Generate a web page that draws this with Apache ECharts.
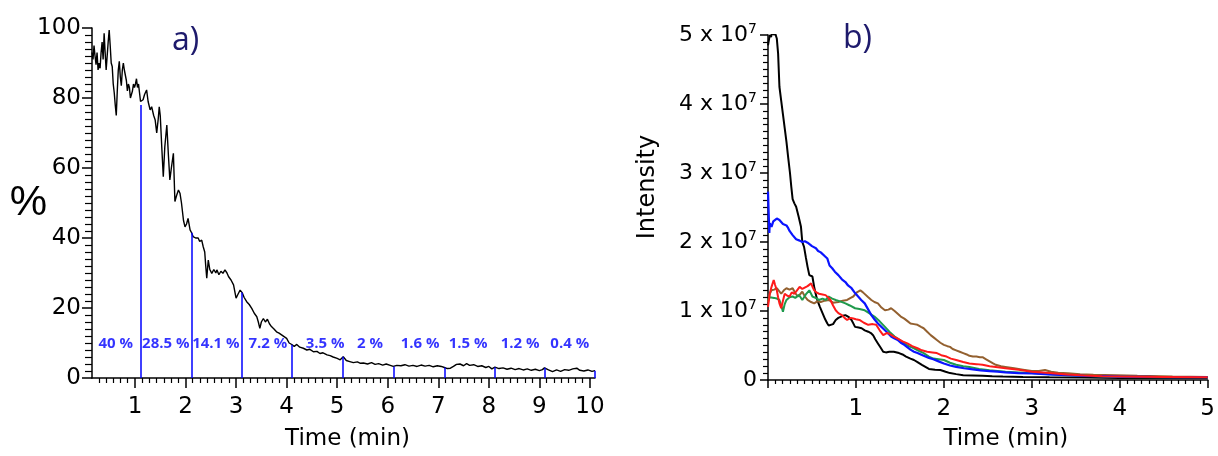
<!DOCTYPE html>
<html><head><meta charset="utf-8">
<script src="https://cdn.jsdelivr.net/npm/echarts@6/dist/echarts.min.js"></script>
<style>html,body{margin:0;padding:0;background:#fff}#c{width:1218px;height:456px}</style>
</head><body><div id="c"></div>
<script>
// ---------- Panel a) ----------
const leftTrace = [[0.15,93],[0.17,91],[0.19,95],[0.21,92],[0.23,89.5],[0.25,93],[0.27,88],[0.29,90],[0.31,88.5],[0.33,93],[0.35,96],[0.37,91],[0.39,98.5],[0.41,93],[0.43,88],[0.45,92],[0.47,96],[0.49,99.4],[0.51,95],[0.53,90],[0.55,89],[0.57,84],[0.59,81.5],[0.61,78],[0.63,75],[0.65,82],[0.67,88],[0.69,90.5],[0.71,86],[0.73,83.5],[0.75,88],[0.77,90],[0.79,88],[0.81,88.5],[0.83,85],[0.85,82],[0.87,84],[0.89,83],[0.91,80],[0.93,79.5],[0.95,82],[0.97,84],[0.99,83],[1.01,84],[1.03,85.5],[1.05,83],[1.07,84],[1.09,81.5],[1.11,79],[1.13,78.5],[1.16,79.5],[1.19,81],[1.23,82.3],[1.26,79],[1.30,76.6],[1.33,77.5],[1.37,75],[1.40,73.7],[1.43,70],[1.46,74],[1.48,77.5],[1.50,75],[1.53,66],[1.56,57.5],[1.59,66],[1.63,72.3],[1.66,64],[1.69,56.6],[1.72,60],[1.76,64.2],[1.79,50.4],[1.82,52],[1.86,53.7],[1.89,52.8],[1.92,50],[1.96,45],[1.99,43.2],[2.02,44],[2.05,45.6],[2.09,42.3],[2.12,41.5],[2.15,40.4],[2.20,40],[2.25,40],[2.28,39],[2.32,39.4],[2.35,37.5],[2.38,36],[2.40,32],[2.42,28.5],[2.45,33.7],[2.48,31],[2.52,29.9],[2.56,31],[2.60,30],[2.62,30.9],[2.66,29.5],[2.70,30.5],[2.74,29.9],[2.78,30.9],[2.82,30],[2.85,29],[2.90,28],[2.95,26.6],[3.00,22.8],[3.04,24],[3.08,25.1],[3.12,24.4],[3.16,23],[3.21,21.8],[3.26,21],[3.31,19.9],[3.36,18.5],[3.41,17.5],[3.44,16],[3.47,14.2],[3.50,16],[3.54,17],[3.58,16],[3.62,16.8],[3.66,15.5],[3.70,14.7],[3.75,14],[3.80,13.2],[3.85,12.8],[3.90,12.3],[3.95,11.8],[4.00,11.3],[4.05,10],[4.11,9.5],[4.15,9],[4.20,9.6],[4.26,8.8],[4.33,8.5],[4.40,8],[4.46,8.2],[4.53,7.5],[4.60,7.6],[4.66,7],[4.72,7.2],[4.80,6.6],[4.86,6.4],[4.92,6],[5.00,5.6],[5.06,5.2],[5.12,6.1],[5.18,5],[5.25,4.7],[5.32,4.4],[5.40,4.6],[5.46,4.2],[5.52,4.3],[5.60,4],[5.68,4.4],[5.75,3.9],[5.82,4.1],[5.90,3.7],[5.97,4],[6.05,3.6],[6.11,3.3],[6.18,3.6],[6.26,3.5],[6.34,3.8],[6.42,3.4],[6.50,3.6],[6.58,3.3],[6.66,3.7],[6.74,3.4],[6.82,3.6],[6.90,3.2],[6.98,3.5],[7.06,3.3],[7.12,3.0],[7.18,2.7],[7.24,2.8],[7.30,3.3],[7.36,3.9],[7.43,4.0],[7.50,3.5],[7.56,4.1],[7.62,3.6],[7.70,3.8],[7.78,3.3],[7.86,3.5],[7.94,3.0],[8.00,3.3],[8.06,2.6],[8.12,3.1],[8.20,2.7],[8.28,2.9],[8.36,2.5],[8.44,2.8],[8.52,2.4],[8.60,2.7],[8.68,2.3],[8.76,2.6],[8.84,2.2],[8.92,2.5],[9.00,2.1],[9.06,2.4],[9.10,2.9],[9.18,2.3],[9.26,1.8],[9.34,2.3],[9.42,1.9],[9.50,2.4],[9.58,2.2],[9.66,2.6],[9.74,2.8],[9.80,2.2],[9.88,2.0],[9.96,2.3],[10.04,1.9],[10.10,2.1]];
const sliceTimes = [1.12,2.12,3.12,4.11,5.12,6.11,7.12,8.11,9.10,10.10];
const sliceTops  = [78,41.5,24.4,9.5,6.1,3.3,3.0,3.1,2.9,2.1];
const fractionTimes  = [0.62,1.61,2.60,3.63,4.76,5.65,6.64,7.59,8.62,9.60];
const fractionLabels = ['40 %','28.5 %','14.1 %','7.2 %','3.5 %','2 %','1.6 %','1.5 %','1.2 %','0.4 %'];
const fractionLevel = 9.7;
const leftXTickLabels = [1,2,3,4,5,6,7,8,9,10];

// ---------- Panel b) (intensity in units of 10^7) ----------
const blackTrace = [[0,4.85],[0.02,5.0],[0.035,4.97],[0.05,5.07],[0.065,5.0],[0.08,5.03],[0.1,4.95],[0.115,4.73],[0.13,4.25],[0.15,4.05],[0.17,3.85],[0.19,3.65],[0.21,3.45],[0.23,3.22],[0.25,3.0],[0.265,2.8],[0.28,2.62],[0.3,2.56],[0.32,2.51],[0.35,2.36],[0.375,2.22],[0.39,2.0],[0.41,1.93],[0.43,1.78],[0.45,1.64],[0.47,1.52],[0.49,1.50],[0.505,1.50],[0.525,1.35],[0.54,1.26],[0.56,1.16],[0.59,1.06],[0.62,0.97],[0.65,0.88],[0.675,0.82],[0.69,0.79],[0.71,0.77],[0.74,0.81],[0.77,0.87],[0.8,0.90],[0.82,0.92],[0.85,0.93],[0.88,0.94],[0.92,0.91],[0.95,0.87],[0.97,0.82],[0.99,0.77],[1.03,0.76],[1.065,0.75],[1.1,0.72],[1.14,0.70],[1.17,0.68],[1.195,0.65],[1.22,0.59],[1.25,0.53],[1.28,0.47],[1.31,0.41],[1.34,0.40],[1.38,0.41],[1.43,0.41],[1.49,0.39],[1.53,0.37],[1.57,0.34],[1.62,0.31],[1.66,0.29],[1.7,0.26],[1.75,0.22],[1.79,0.19],[1.83,0.16],[1.9,0.15],[1.96,0.145],[2.02,0.12],[2.07,0.10],[2.14,0.085],[2.22,0.07],[2.33,0.065],[2.44,0.06],[2.55,0.055],[2.67,0.05],[2.9,0.045],[3.2,0.04],[3.6,0.035],[4.0,0.03],[4.5,0.03],[5.0,0.03]];
const blueTrace = [[0,2.73],[0.008,2.4],[0.015,2.13],[0.02,2.27],[0.04,2.22],[0.06,2.3],[0.08,2.29],[0.1,2.34],[0.115,2.36],[0.13,2.32],[0.15,2.29],[0.17,2.26],[0.19,2.27],[0.21,2.24],[0.23,2.2],[0.245,2.16],[0.26,2.15],[0.28,2.1],[0.3,2.08],[0.32,2.04],[0.34,2.05],[0.36,2.02],[0.39,2.0],[0.42,2.01],[0.45,1.99],[0.47,1.97],[0.5,1.94],[0.52,1.93],[0.545,1.91],[0.57,1.87],[0.6,1.85],[0.62,1.83],[0.65,1.79],[0.675,1.76],[0.7,1.66],[0.73,1.62],[0.76,1.57],[0.8,1.52],[0.84,1.46],[0.88,1.42],[0.91,1.37],[0.95,1.33],[0.99,1.26],[1.025,1.21],[1.06,1.16],[1.1,1.11],[1.14,1.02],[1.175,0.94],[1.21,0.88],[1.25,0.82],[1.29,0.77],[1.33,0.72],[1.37,0.67],[1.4,0.63],[1.44,0.60],[1.475,0.58],[1.51,0.54],[1.55,0.51],[1.59,0.47],[1.62,0.44],[1.66,0.41],[1.7,0.39],[1.77,0.35],[1.83,0.32],[1.88,0.30],[1.94,0.27],[2.0,0.24],[2.07,0.21],[2.14,0.19],[2.23,0.17],[2.33,0.155],[2.42,0.14],[2.52,0.13],[2.61,0.12],[2.7,0.11],[2.85,0.10],[3.0,0.095],[3.2,0.08],[3.4,0.07],[3.6,0.06],[3.8,0.055],[4.0,0.05],[4.3,0.045],[4.6,0.04],[5.0,0.04]];
const greenTrace = [[0,1.16],[0.02,1.2],[0.04,1.21],[0.07,1.19],[0.1,1.18],[0.13,1.16],[0.15,1.08],[0.17,0.99],[0.19,1.1],[0.21,1.16],[0.245,1.2],[0.28,1.21],[0.31,1.19],[0.35,1.23],[0.37,1.2],[0.39,1.16],[0.43,1.24],[0.47,1.30],[0.49,1.25],[0.505,1.21],[0.54,1.19],[0.58,1.16],[0.62,1.18],[0.655,1.16],[0.69,1.21],[0.73,1.18],[0.77,1.16],[0.82,1.14],[0.88,1.11],[0.93,1.08],[0.99,1.04],[1.04,1.03],[1.1,1.01],[1.15,0.97],[1.21,0.92],[1.27,0.85],[1.33,0.77],[1.38,0.70],[1.44,0.63],[1.5,0.58],[1.55,0.53],[1.6,0.49],[1.66,0.46],[1.72,0.42],[1.77,0.39],[1.83,0.34],[1.88,0.31],[1.94,0.30],[2.0,0.29],[2.07,0.25],[2.14,0.22],[2.22,0.2],[2.29,0.19],[2.4,0.16],[2.52,0.14],[2.61,0.13],[2.7,0.12],[2.85,0.11],[3.0,0.10],[3.2,0.085],[3.4,0.07],[3.6,0.06],[3.8,0.05],[4.0,0.045],[4.5,0.04],[5.0,0.04]];
const redTrace = [[0,1.06],[0.02,1.25],[0.04,1.35],[0.065,1.45],[0.08,1.38],[0.1,1.30],[0.115,1.2],[0.13,1.11],[0.15,1.04],[0.17,1.15],[0.19,1.25],[0.22,1.22],[0.245,1.21],[0.27,1.27],[0.3,1.25],[0.33,1.3],[0.36,1.35],[0.39,1.32],[0.41,1.30],[0.45,1.36],[0.49,1.40],[0.51,1.34],[0.525,1.30],[0.55,1.27],[0.58,1.25],[0.62,1.24],[0.655,1.23],[0.69,1.19],[0.71,1.16],[0.74,1.08],[0.77,1.01],[0.8,0.97],[0.84,0.94],[0.87,0.9],[0.9,0.87],[0.94,0.9],[0.97,0.89],[1.0,0.88],[1.04,0.87],[1.09,0.83],[1.14,0.80],[1.19,0.81],[1.23,0.80],[1.27,0.72],[1.31,0.65],[1.35,0.68],[1.38,0.67],[1.43,0.63],[1.475,0.60],[1.53,0.56],[1.585,0.53],[1.64,0.49],[1.7,0.46],[1.75,0.43],[1.81,0.41],[1.87,0.40],[1.92,0.39],[1.97,0.36],[2.03,0.34],[2.08,0.31],[2.14,0.29],[2.22,0.26],[2.29,0.24],[2.37,0.23],[2.44,0.22],[2.52,0.2],[2.59,0.19],[2.7,0.17],[2.85,0.15],[3.0,0.12],[3.2,0.10],[3.4,0.08],[3.6,0.065],[3.8,0.055],[4.0,0.05],[4.5,0.045],[5.0,0.04]];
const brownTrace = [[0,1.13],[0.02,1.25],[0.04,1.30],[0.07,1.31],[0.1,1.33],[0.125,1.29],[0.15,1.25],[0.18,1.3],[0.21,1.33],[0.245,1.31],[0.28,1.33],[0.31,1.26],[0.34,1.21],[0.37,1.25],[0.39,1.28],[0.42,1.21],[0.45,1.16],[0.49,1.13],[0.525,1.11],[0.56,1.14],[0.6,1.13],[0.645,1.15],[0.69,1.16],[0.74,1.12],[0.8,1.13],[0.85,1.15],[0.9,1.16],[0.94,1.19],[0.97,1.21],[1.01,1.27],[1.05,1.30],[1.08,1.27],[1.10,1.25],[1.14,1.2],[1.175,1.16],[1.21,1.13],[1.25,1.11],[1.29,1.05],[1.33,1.01],[1.37,1.02],[1.40,1.04],[1.44,1.0],[1.475,0.96],[1.51,0.92],[1.55,0.89],[1.59,0.85],[1.62,0.82],[1.66,0.81],[1.70,0.80],[1.74,0.77],[1.77,0.75],[1.81,0.7],[1.85,0.65],[1.89,0.61],[1.92,0.58],[1.96,0.54],[2.0,0.51],[2.04,0.49],[2.07,0.48],[2.1,0.45],[2.14,0.43],[2.18,0.41],[2.22,0.39],[2.26,0.37],[2.29,0.35],[2.33,0.34],[2.37,0.34],[2.41,0.33],[2.44,0.33],[2.48,0.30],[2.52,0.27],[2.56,0.24],[2.59,0.22],[2.65,0.20],[2.7,0.19],[2.8,0.17],[2.9,0.15],[3.0,0.13],[3.08,0.13],[3.15,0.145],[3.22,0.12],[3.3,0.105],[3.41,0.097],[3.55,0.085],[3.7,0.075],[3.96,0.07],[4.2,0.06],[4.6,0.05],[5.0,0.045]];

// ---------- chart ----------
const FONT = 'DejaVu Sans';
const minorLeftX = [];
for (let i = 0; i <= 10; i++) for (let k = 1; k < 7; k++) { const v = i + k / 7; if (v > 0.15 && v < 10.1) minorLeftX.push(+v.toFixed(4)); }

const chart = echarts.init(document.getElementById('c'), null, {renderer: 'canvas'});
const axisLine = {show: true, lineStyle: {color: '#000', width: 1.5}};
chart.setOption({
  animation: false,
  backgroundColor: '#fff',
  grid: [
    {left: 92, top: 28, width: 503, height: 350},
    {left: 768, top: 35, width: 445, height: 345}
  ],
  xAxis: [
    {gridIndex: 0, type: 'value', min: 0.15, max: 10.1, position: 'bottom',
     axisLine: axisLine, splitLine: {show: false},
     axisTick: {customValues: leftXTickLabels, length: 10, lineStyle: {color: '#000', width: 1.5}},
     axisLabel: {customValues: leftXTickLabels, color: '#000', fontFamily: FONT, fontSize: 23, margin: 18},
     name: 'Time (min)', nameLocation: 'middle', nameGap: 50, nameMoveOverlap: false,
     nameTextStyle: {color: '#000', fontFamily: FONT, fontSize: 23, padding: [0, 0, 0, 8]}},
    {gridIndex: 0, type: 'value', min: 0.15, max: 10.1, position: 'bottom', offset: 0,
     axisLine: {show: false}, splitLine: {show: false},
     axisTick: {customValues: minorLeftX, length: 5, lineStyle: {color: '#000', width: 1.2}},
     axisLabel: {show: false}},
    {gridIndex: 1, type: 'value', min: 0, max: 5, interval: 1,
     axisLine: axisLine, splitLine: {show: false},
     axisTick: {length: 8, lineStyle: {color: '#000', width: 1.5}},
     minorTick: {show: true, splitNumber: 12, length: 4, lineStyle: {color: '#000', width: 1.2}},
     axisLabel: {color: '#000', fontFamily: FONT, fontSize: 23, margin: 18,
                 formatter: v => v === 0 ? '' : String(v)},
     name: 'Time (min)', nameLocation: 'middle', nameGap: 48, nameMoveOverlap: false,
     nameTextStyle: {color: '#000', fontFamily: FONT, fontSize: 23, padding: [0, 0, 0, 36]}}
  ],
  yAxis: [
    {gridIndex: 0, type: 'value', min: 0, max: 100, interval: 20,
     axisLine: axisLine, splitLine: {show: false},
     axisTick: {length: 10, lineStyle: {color: '#000', width: 1.5}},
     minorTick: {show: true, splitNumber: 10, length: 7, lineStyle: {color: '#000', width: 1.2}},
     axisLabel: {color: '#000', fontFamily: FONT, fontSize: 23, margin: 11},
     name: '%', nameLocation: 'middle', nameRotate: 0, nameGap: 45, nameMoveOverlap: false,
     nameTextStyle: {color: '#000', fontFamily: 'Liberation Sans', fontSize: 42}},
    {gridIndex: 1, type: 'value', min: 0, max: 5, interval: 1,
     axisLine: axisLine, splitLine: {show: false},
     axisTick: {length: 8, lineStyle: {color: '#000', width: 1.5}},
     minorTick: {show: true, splitNumber: 10, length: 5, lineStyle: {color: '#000', width: 1.2}},
     axisLabel: {color: '#000', margin: 11,
       formatter: v => v === 0 ? '{n|0}' : '{n|' + v + ' x 10}{s|7}',
       rich: {n: {fontFamily: FONT, fontSize: 22, color: '#000', lineHeight: 26},
              s: {fontFamily: FONT, fontSize: 14, color: '#000', lineHeight: 14, verticalAlign: 'top'}}}}
  ],
  series: [
    {type: 'scatter', xAxisIndex: 0, yAxisIndex: 0, symbolSize: 0, silent: true, z: 1,
     data: fractionTimes.map((t, i) => [t, fractionLevel, fractionLabels[i]]),
     label: {show: true, position: 'inside', formatter: p => p.value[2],
             color: '#0000ff', fontFamily: 'Open Sans', fontWeight: 'bold', fontSize: 15},
     markLine: {silent: true, symbol: ['none', 'none'], label: {show: false},
                lineStyle: {color: '#0000ff', width: 1.5, type: 'solid', opacity: 1},
                data: sliceTimes.map((t, i) => [{coord: [t, 0]}, {coord: [t, sliceTops[i]]}])}},
    {type: 'line', xAxisIndex: 0, yAxisIndex: 0, data: leftTrace, showSymbol: false, z: 3,
     lineStyle: {color: '#000', width: 1.4}},
    {type: 'line', xAxisIndex: 2, yAxisIndex: 1, data: blackTrace, showSymbol: false,
     lineStyle: {color: '#000', width: 2}},
    {type: 'line', xAxisIndex: 2, yAxisIndex: 1, data: brownTrace, showSymbol: false,
     lineStyle: {color: '#93602f', width: 2}},
    {type: 'line', xAxisIndex: 2, yAxisIndex: 1, data: greenTrace, showSymbol: false,
     lineStyle: {color: '#1f9a4c', width: 2}},
    {type: 'line', xAxisIndex: 2, yAxisIndex: 1, data: blueTrace, showSymbol: false,
     lineStyle: {color: '#0a14ff', width: 2.2}},
    {type: 'line', xAxisIndex: 2, yAxisIndex: 1, data: redTrace, showSymbol: false,
     lineStyle: {color: '#ff1a1a', width: 2}}
  ],
  graphic: [
    {type: 'text', left: 172, top: 25, style: {text: 'a)', font: '32px "Open Sans"', fill: '#1e1a6c'}},
    {type: 'text', left: 843, top: 23, style: {text: 'b)', font: '32px "Open Sans"', fill: '#1e1a6c'}},
    {type: 'text', x: 648, y: 187, rotation: Math.PI / 2,
     style: {text: 'Intensity', font: '24px "DejaVu Sans"', fill: '#000', align: 'center', verticalAlign: 'middle'}}
  ]
});
</script></body></html>
